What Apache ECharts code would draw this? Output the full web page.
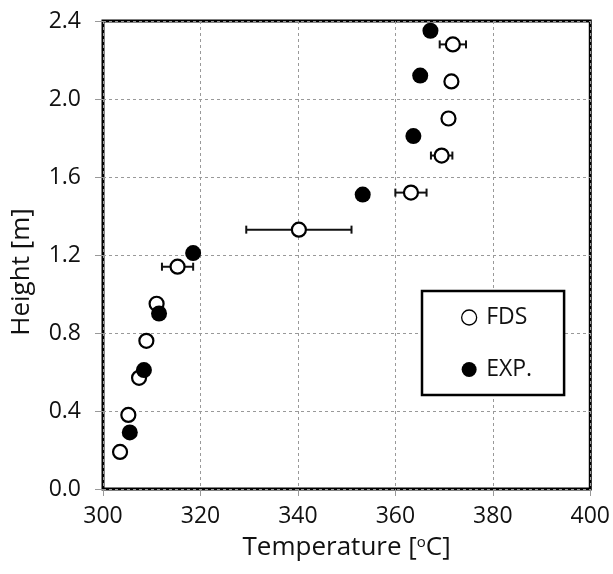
<!DOCTYPE html>
<html>
<head>
<meta charset="utf-8">
<script src="https://cdn.jsdelivr.net/npm/echarts@6/dist/echarts.min.js"></script>
<style>html,body{margin:0;padding:0;background:#fff}#c{width:613px;height:574px}</style>
</head>
<body>
<div id="c"></div>
<script>
var xTicks = [300, 320, 340, 360, 380, 400];
var yTicks = [0.0, 0.4, 0.8, 1.2, 1.6, 2.0, 2.4];
var fdsTemp = [303.5, 305.2, 307.4, 308.9, 311.0, 315.3, 340.2, 363.2, 369.5, 370.9, 371.5, 371.8];
var fdsHeight = [0.19, 0.38, 0.57, 0.76, 0.95, 1.14, 1.33, 1.52, 1.71, 1.90, 2.09, 2.28];
var fdsErr = [0, 0, 0, 0, 0, 3.2, 10.8, 3.2, 2.2, 0, 0, 2.7];
var expTemp = [305.5, 308.4, 311.5, 318.5, 353.3, 363.7, 365.1, 367.2];
var expHeight = [0.29, 0.61, 0.90, 1.21, 1.51, 1.81, 2.12, 2.35];

var FONT = 'Open Sans';
var fdsData = fdsTemp.map(function (t, i) { return [t, fdsHeight[i]]; });
var expData = expTemp.map(function (t, i) { return [t, expHeight[i]]; });
var errData = [];
fdsTemp.forEach(function (t, i) {
  if (fdsErr[i] > 0) errData.push([t - fdsErr[i], t + fdsErr[i], fdsHeight[i]]);
});

var chart = echarts.init(document.getElementById('c'));
chart.setOption({
  animation: false,
  backgroundColor: '#fff',
  grid: { left: 103, right: 22, top: 21, bottom: 85, show: true, borderColor: '#000', borderWidth: 3, backgroundColor: 'transparent' },
  xAxis: {
    type: 'value', min: xTicks[0], max: xTicks[xTicks.length - 1], interval: 20,
    name: 'Temperature [{s|o}C]', nameLocation: 'middle', nameGap: 46,
    nameTextStyle: { fontFamily: FONT, fontSize: 26, color: '#111', rich: { s: { fontFamily: FONT, fontSize: 15, verticalAlign: 'top', padding: [0, 0, 10, 0], color: '#111' } } },
    axisLine: { show: false },
    axisTick: { show: true, inside: false, length: 7, lineStyle: { color: '#999', width: 1 } },
    axisLabel: { fontFamily: FONT, fontSize: 23, color: '#111', margin: 16 },
    splitLine: { show: true, lineStyle: { color: '#999', type: [3, 3], width: 1 } }
  },
  yAxis: {
    type: 'value', min: yTicks[0], max: yTicks[yTicks.length - 1], interval: 0.4,
    name: 'Height [m]', nameLocation: 'middle', nameGap: 68,
    nameTextStyle: { fontFamily: FONT, fontSize: 26, color: '#111', padding: [0, 34, 0, 0] },
    axisLine: { show: false },
    axisTick: { show: true, inside: false, length: 8, lineStyle: { color: '#999', width: 1 } },
    axisLabel: { fontFamily: FONT, fontSize: 23, color: '#111', margin: 22, formatter: function (v) { return v.toFixed(1); } },
    splitLine: { show: true, lineStyle: { color: '#999', type: [3, 3], width: 1 } }
  },
  legend: {
    orient: 'vertical', left: 422, top: 291,
    padding: [15, 32, 14, 39], itemGap: 29,
    borderColor: '#000', borderWidth: 2.5, backgroundColor: '#fff',
    itemWidth: 24, itemHeight: 15,
    textStyle: { fontFamily: FONT, fontSize: 23, color: '#111', lineHeight: 22 },
    data: [
      { name: 'FDS', icon: 'circle', itemStyle: { color: '#fff', borderColor: '#000', borderWidth: 1.3 } },
      { name: 'EXP.', icon: 'circle', itemStyle: { color: '#000', borderWidth: 0 } }
    ]
  },
  series: [
    {
      name: 'FDSerr', type: 'custom', z: 1, silent: true,
      data: errData,
      renderItem: function (params, api) {
        var p1 = api.coord([api.value(0), api.value(2)]);
        var p2 = api.coord([api.value(1), api.value(2)]);
        var h = 4;
        var st = { stroke: '#111', lineWidth: 2 };
        return {
          type: 'group',
          children: [
            { type: 'line', shape: { x1: p1[0], y1: p1[1], x2: p2[0], y2: p2[1] }, style: st },
            { type: 'line', shape: { x1: p1[0], y1: p1[1] - h, x2: p1[0], y2: p1[1] + h }, style: st },
            { type: 'line', shape: { x1: p2[0], y1: p2[1] - h, x2: p2[0], y2: p2[1] + h }, style: st }
          ]
        };
      }
    },
    {
      name: 'FDS', type: 'scatter', z: 3, symbol: 'circle', symbolSize: 14,
      itemStyle: { color: '#fff', borderColor: '#000', borderWidth: 2.2, opacity: 1 },
      data: fdsData
    },
    {
      name: 'EXP.', type: 'scatter', z: 4, symbol: 'circle', symbolSize: 16,
      itemStyle: { color: '#000', opacity: 1 },
      data: expData
    }
  ]
});
</script>
</body>
</html>
